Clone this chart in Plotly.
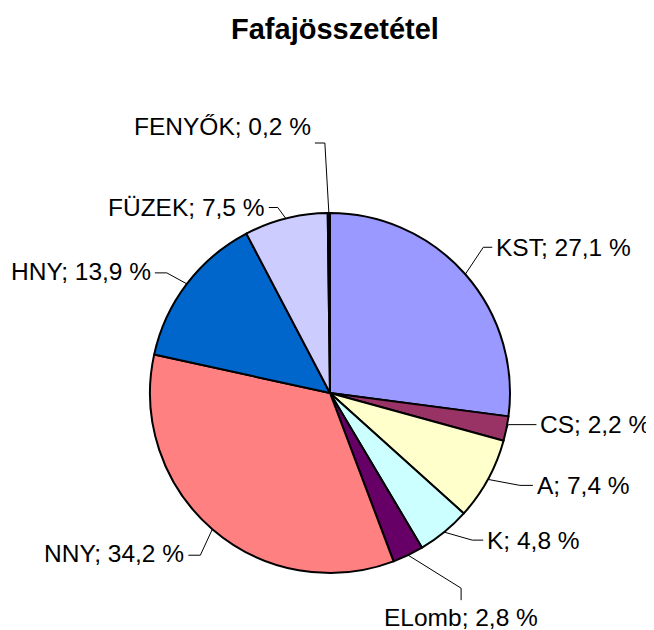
import math
import plotly.graph_objects as go

# ---- data ----
categories = ["KST", "CS", "A", "K", "ELomb", "NNY", "HNY", "FÜZEK", "FENYŐK"]
values = [27.1, 2.2, 7.4, 4.8, 2.8, 34.2, 13.9, 7.5, 0.2]
colors = ["#9999FF", "#993366", "#FFFFCC", "#CCFFFF", "#660066",
          "#FF8080", "#0066CC", "#CCCCFF", "#000080"]
title_text = "Fafajösszetétel"

# ---- layout constants (screen pixels) ----
OFF = 8                      # page body margin
W, H = 654 - OFF, 630 - OFF  # figure size
CX, CY, R = 330, 393, 180
FONT = "Liberation Sans, Arial, sans-serif"
LABEL_SIZE = 24.5

# label leader style: elbow offset from slice edge (dx, dy), tail length, orientation, text dy
leader_style = {
    "KST":    ((18, -27), 9, "h", 0),
    "CS":     ((2, -4), 28, "h", 0),
    "A":      ((32, 6), 13, "h", 0),
    "K":      ((28, 8), 11, "h", 0),
    "ELomb":  ((53, 33), 12, "v", 0),
    "NNY":    ((-12, 26), -12, "h", -2),
    "HNY":    ((-20, -11), -12, "h", -1),
    "FÜZEK":  ((-8, -11), -9, "h", 0),
    "FENYŐK": ((-4, -70), -10, "h", -17),
}


def px(x, y):
    return (x - OFF) / W, 1 - (y - OFF) / H


fig = go.Figure()
d0 = px(CX - R, CY + R)
d1 = px(CX + R, CY - R)
fig.add_trace(go.Pie(
    labels=categories,
    values=values,
    sort=False,
    direction="clockwise",
    rotation=0,
    marker=dict(colors=colors, line=dict(color="#000000", width=2)),
    textinfo="none",
    hoverinfo="label+percent",
    showlegend=False,
    domain=dict(x=[d0[0], d1[0]], y=[d0[1], d1[1]]),
))

shapes = []
annotations = []
total = sum(values)
cum = 0.0
for name, v in zip(categories, values):
    mid = (cum + v / 2) / total
    cum += v
    theta = 2 * math.pi * mid
    ex = CX + R * math.sin(theta)
    ey = CY - R * math.cos(theta)
    (dx, dy), tail, orient, tdy = leader_style[name]
    bx, by = ex + dx, ey + dy
    if orient == "h":
        tx, ty = bx + tail, by
    else:
        tx, ty = bx, by + tail
    for (x0, y0, x1, y1) in [(ex, ey, bx, by), (bx, by, tx, ty)]:
        a0 = px(x0, y0)
        a1 = px(x1, y1)
        shapes.append(dict(type="line", xref="paper", yref="paper",
                           x0=a0[0], y0=a0[1], x1=a1[0], y1=a1[1],
                           line=dict(color="#000000", width=1)))
    label = f"{name}; {v:.1f} %".replace(".", ",")
    if orient == "h":
        if tail >= 0:
            ax, anchor = tx + 2, "left"
        else:
            ax, anchor = tx - 2, "right"
        p = px(ax, ty + tdy)
        annotations.append(dict(x=p[0], y=p[1], xref="paper", yref="paper",
                                text=label, showarrow=False, xanchor=anchor,
                                yanchor="middle",
                                font=dict(family=FONT, size=LABEL_SIZE, color="#000000")))
    else:
        p = px(tx, ty + 2)
        annotations.append(dict(x=p[0], y=p[1], xref="paper", yref="paper",
                                text=label, showarrow=False, xanchor="center",
                                yanchor="top",
                                font=dict(family=FONT, size=LABEL_SIZE, color="#000000")))

tp = px(335, 29)
annotations.append(dict(x=tp[0], y=tp[1], xref="paper", yref="paper",
                        text=f"<b>{title_text}</b>", showarrow=False,
                        xanchor="center", yanchor="middle",
                        font=dict(family=FONT, size=29, color="#000000")))

fig.update_layout(
    width=W, height=H,
    margin=dict(l=0, r=0, t=0, b=0),
    paper_bgcolor="#FFFFFF",
    plot_bgcolor="#FFFFFF",
    shapes=shapes,
    annotations=annotations,
)

fig.write_html("out.html")
